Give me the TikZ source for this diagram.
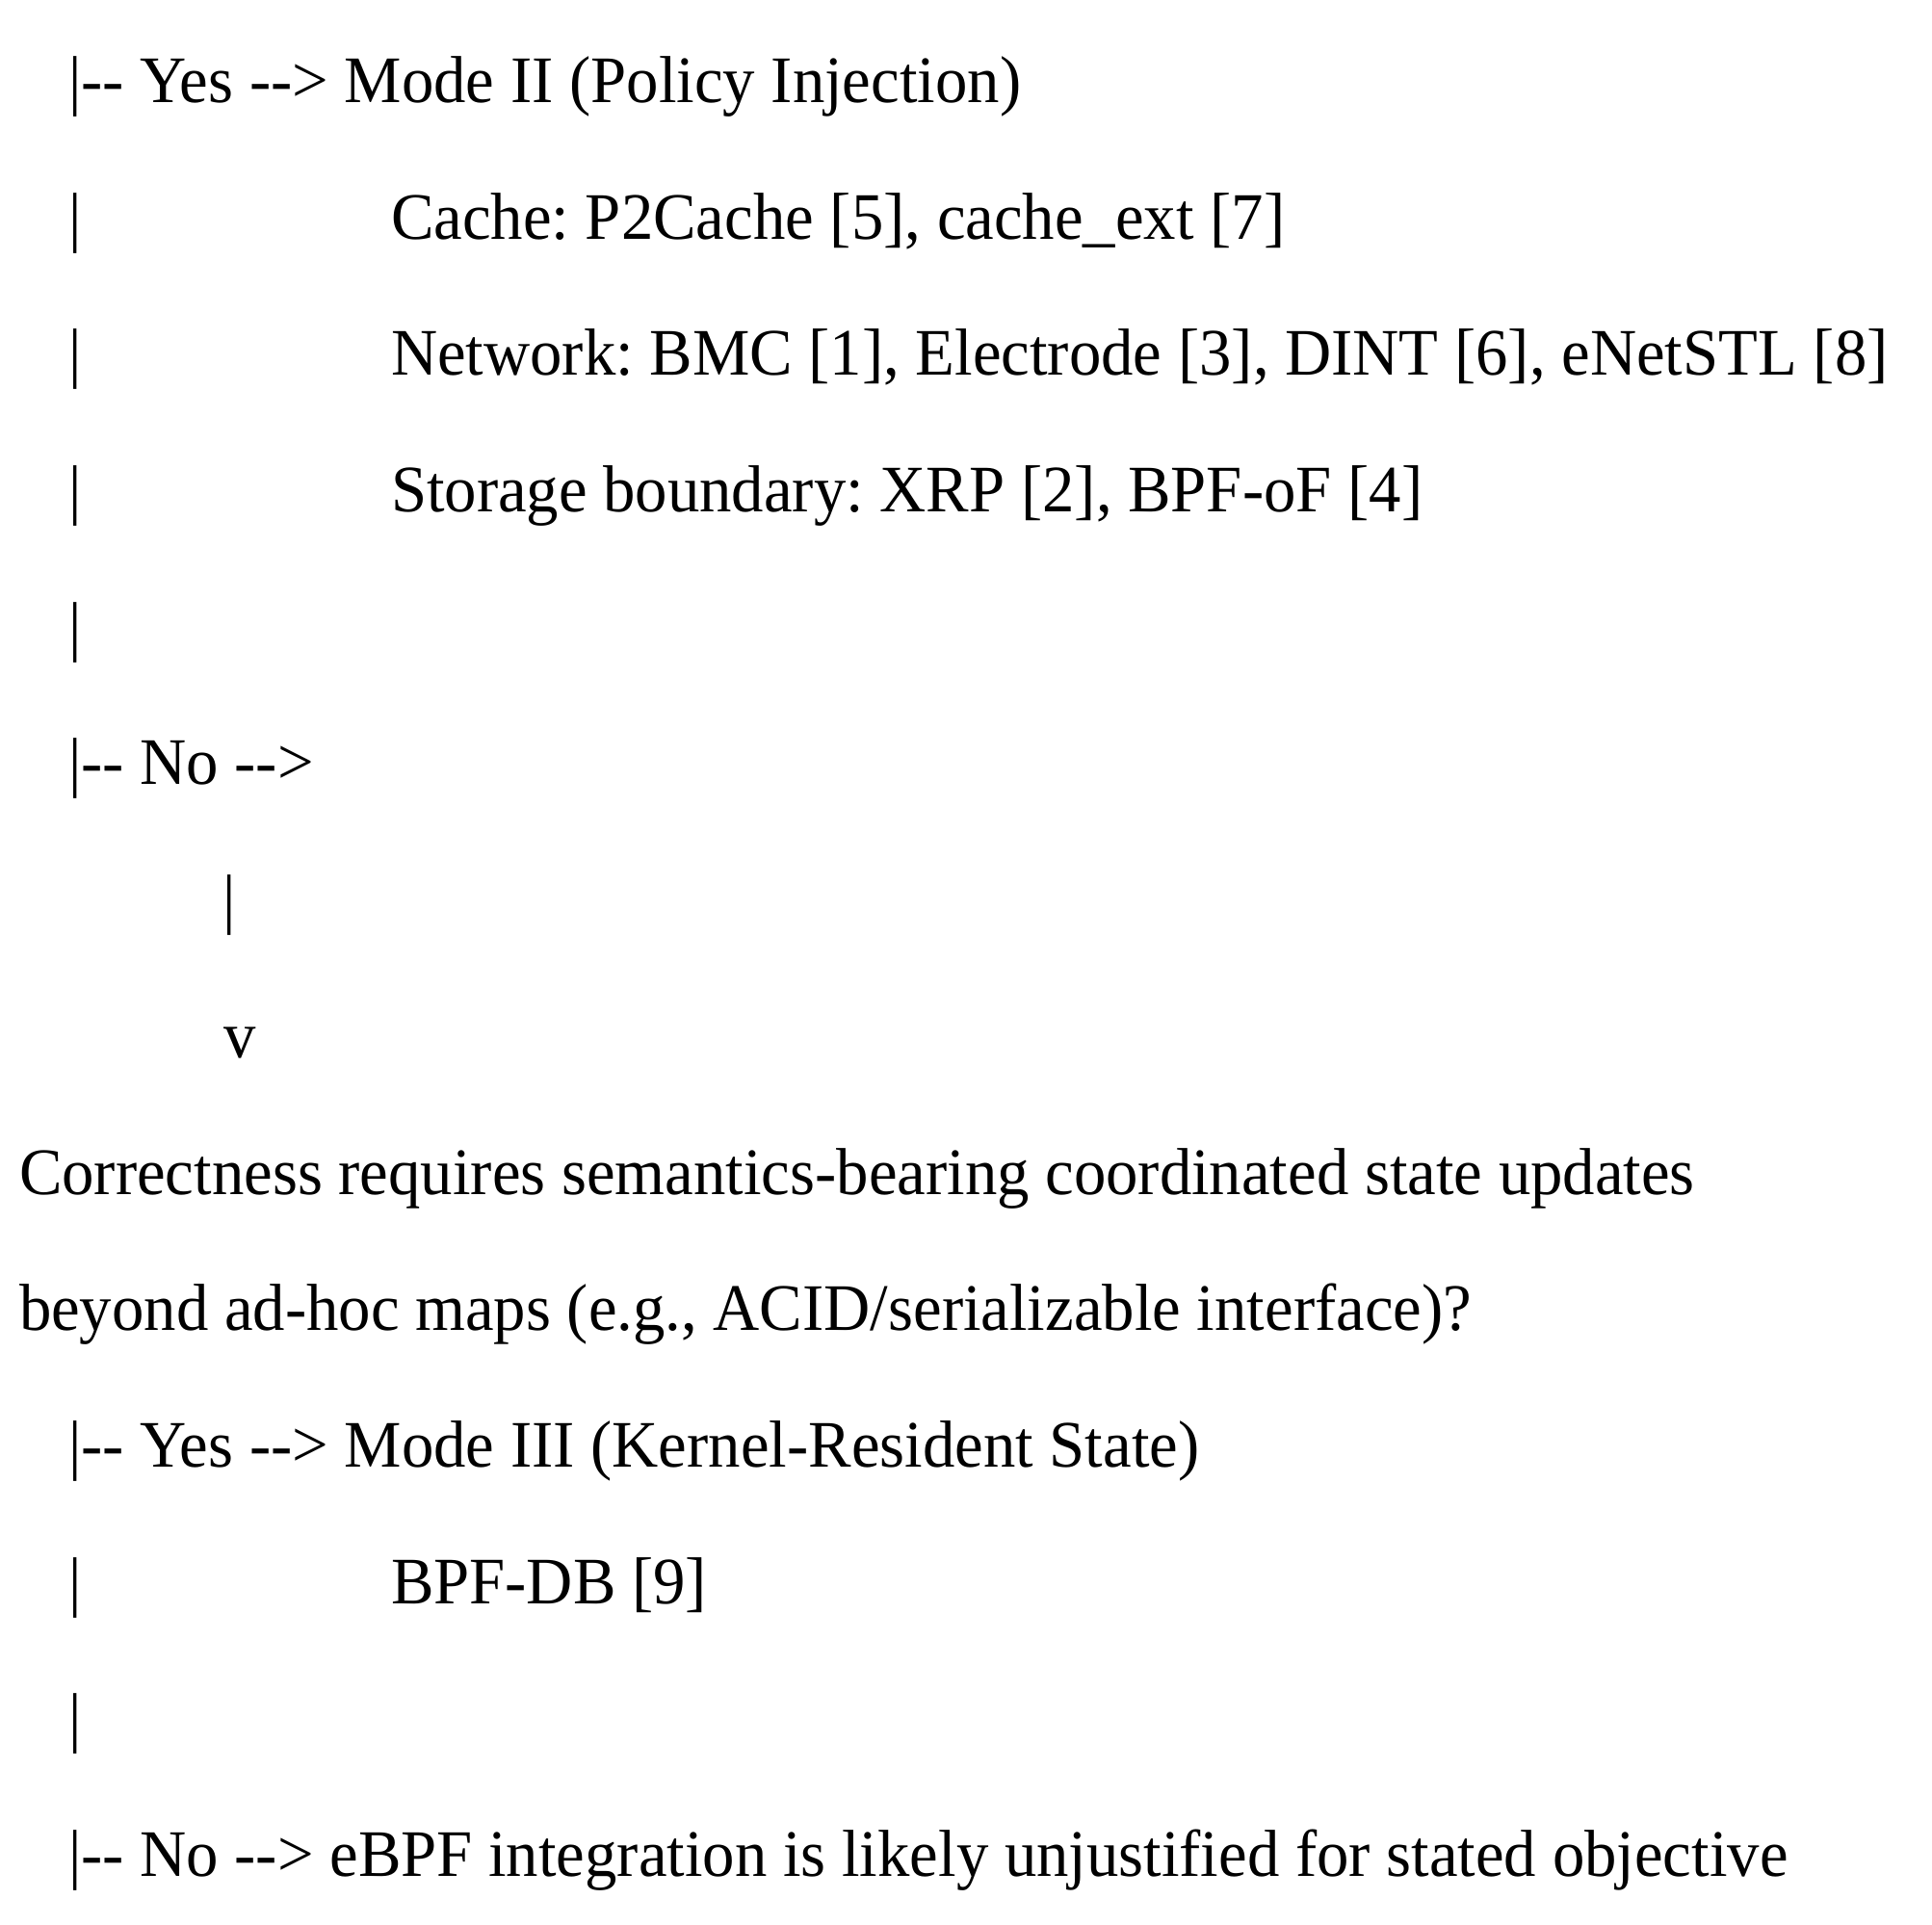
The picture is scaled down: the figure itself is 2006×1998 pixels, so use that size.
\documentclass[tikz,border=0pt]{standalone}
\usepackage{fontspec}
\setmainfont{Liberation Serif}[Ligatures=TeXOff]
\frenchspacing
\newcommand{\sq}[1]{\scalebox{0.967}[1]{#1}}
\begin{document}
\begin{tikzpicture}[x=0.5pt,y=-0.5pt,
  txt/.style={anchor=base west,inner sep=0pt,outer sep=0pt,font=\fontsize{34.5pt}{40pt}\selectfont\frenchspacing}]
\useasboundingbox[fill=white] (0,0) rectangle (2006,1998);
% baselines: 106 + k*141.7
\node[txt] (l0)  at (71,106)   {\sq{|-- Yes --> Mode II (Policy Injection)}};
\node[txt] (b1)  at (71,248)   {\sq{|}};
\node[txt] (l1)  at (406,248)  {\sq{Cache: P2Cache [5], cache\_ext [7]}};
\node[txt] (b2)  at (71,389)   {\sq{|}};
\node[txt] (l2)  at (406,389)  {\sq{Network: BMC [1], Electrode [3], DINT [6], eNetSTL [8]}};
\node[txt] (b3)  at (71,531)   {\sq{|}};
\node[txt] (l3)  at (406,531)  {\sq{Storage boundary: XRP [2], BPF-oF [4]}};
\node[txt] (b4)  at (71,673)   {\sq{|}};
\node[txt] (l5)  at (71,814)   {\sq{|-- No -->}};
\node[txt] (b6)  at (231,956)  {\sq{|}};
\node[txt] (v7)  at (232,1098) {\sq{v}};
\node[txt] (q1)  at (20,1240)  {\sq{Correctness requires semantics-bearing coordinated state updates}};
\node[txt] (q2)  at (20,1381)  {\sq{beyond ad-hoc maps (e.g., ACID/serializable interface)?}};
\node[txt] (l10) at (71,1523)  {\sq{|-- Yes --> Mode III (Kernel-Resident State)}};
\node[txt] (b11) at (71,1665)  {\sq{|}};
\node[txt] (l11) at (406,1665) {\sq{BPF-DB [9]}};
\node[txt] (b12) at (71,1806)  {\sq{|}};
\node[txt] (l13) at (71,1948)  {\sq{|-- No --> eBPF integration is likely unjustified for stated objective}};
\end{tikzpicture}
\end{document}
